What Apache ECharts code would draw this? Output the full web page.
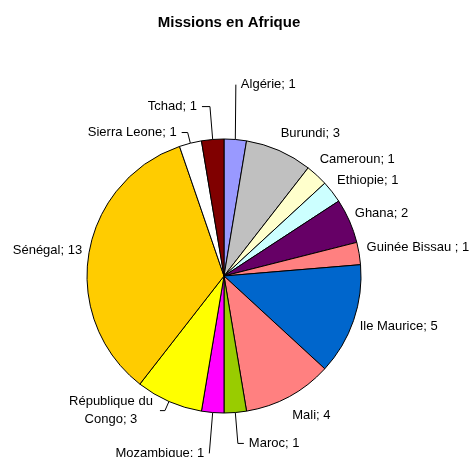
<!DOCTYPE html>
<html>
<head>
<meta charset="utf-8">
<script src="https://cdn.jsdelivr.net/npm/echarts@6/dist/echarts.min.js"></script>
<style>
  html, body { margin: 0; padding: 0; background: #fff; }
  #chart { width: 472px; height: 457px; }
</style>
</head>
<body>
<div id="chart"></div>
<script>
// pays et nombre de missions (sens horaire depuis le haut)
const countries = ['Algérie', 'Burundi', 'Cameroun', 'Ethiopie', 'Ghana', 'Guinée Bissau ', 'Ile Maurice', 'Mali', 'Maroc', 'Mozambique', 'République du\nCongo', 'Sénégal', 'Sierra Leone', 'Tchad']
const missions = [1, 3, 1, 1, 2, 1, 5, 4, 1, 1, 3, 13, 1, 1]
const colors = ['#9999ff', '#c0c0c0', '#ffffcc', '#ccffff', '#660066', '#ff8080', '#0066cc', '#ff8080', '#99cc00', '#ff00ff', '#ffff00', '#ffcc00', '#ffffff', '#800000']

// placement des étiquettes : [length, length2, ligne visible]
const labelPlace = {
  'Algérie': [55, -4, true],
  'Burundi': [19, -11, false],
  'Cameroun': [22, -17, false],
  'Ethiopie': [19, -15, false],
  'Ghana': [20, -18, false],
  'Guinée Bissau ': [39, -36, false],
  'Ile Maurice': [17, -15, false],
  'Mali': [21, -12, false],
  'Maroc': [31, 6, true],
  'Mozambique': [41, 0, true],
  'République du\nCongo': [10, 5, true],
  'Sénégal': [21, -19, false],
  'Sierra Leone': [11, 6, true],
  'Tchad': [33, 8, true]
}

const chart = echarts.init(document.getElementById('chart'))

const data = countries.map((name, i) => {
  const p = labelPlace[name]
  return {
    name,
    value: missions[i],
    itemStyle: { color: colors[i] },
    labelLine: { show: p[2], length: p[0], length2: p[1] }
  }
})

chart.setOption({
  animation: false,
  title: {
    text: 'Missions en Afrique',
    left: 224,
    textAlign: 'center',
    top: 10,
    textStyle: { fontFamily: 'Liberation Sans', fontSize: 15, fontWeight: 'bold', color: '#000' }
  },
  series: [{
    type: 'pie',
    center: [224, 276],
    radius: 137,
    startAngle: 90,
    clockwise: true,
    avoidLabelOverlap: false,
    data,
    itemStyle: { borderColor: '#000', borderWidth: 1 },
    label: {
      show: true,
      formatter: p => {
        const lines = (p.name + '; ' + p.value).split('\n')
        if (lines.length === 1) return lines[0]
        return lines.map(s => '{c|' + s + '}').join('\n')
      },
      fontFamily: 'Liberation Sans',
      fontSize: 13,
      color: '#000',
      lineHeight: 18,
      overflow: 'none',
      rich: {
        c: { width: 88, align: 'center', fontFamily: 'Liberation Sans', fontSize: 13, lineHeight: 18, color: '#000' }
      }
    },
    labelLine: {
      lineStyle: { color: '#000', width: 1 }
    },
    emphasis: { disabled: true }
  }]
})
</script>
</body>
</html>
